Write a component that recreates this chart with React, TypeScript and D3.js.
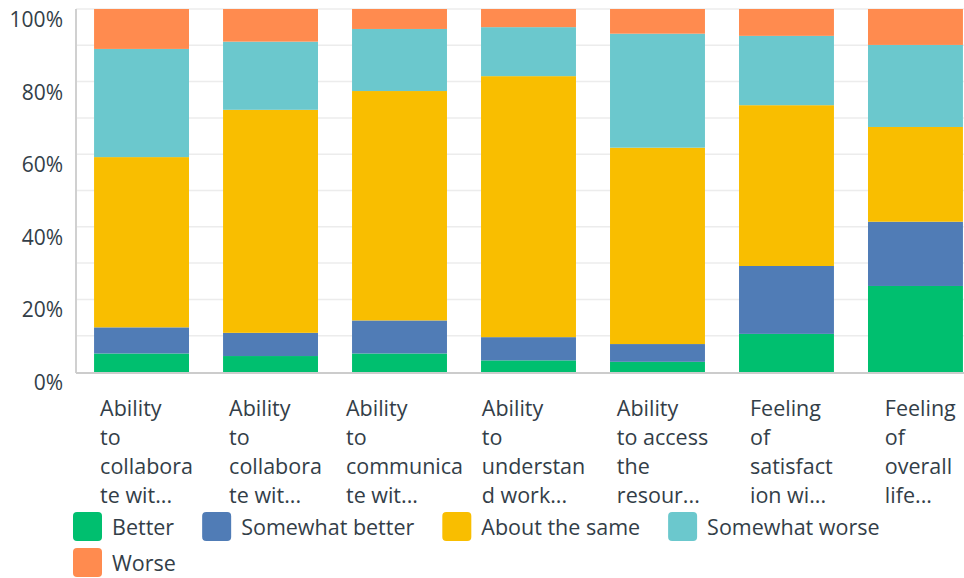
import React, { useRef, useEffect } from 'react';
import * as d3 from 'd3';

// categories (as wrapped / truncated in the chart)
const categories = [
  ['Ability', 'to', 'collabora', 'te wit...'],
  ['Ability', 'to', 'collabora', 'te wit...'],
  ['Ability', 'to', 'communica', 'te wit...'],
  ['Ability', 'to', 'understan', 'd work...'],
  ['Ability', 'to access', 'the', 'resour...'],
  ['Feeling', 'of', 'satisfact', 'ion wi...'],
  ['Feeling', 'of', 'overall', 'life...'],
];

const seriesNames = ['Better', 'Somewhat better', 'About the same', 'Somewhat worse', 'Worse'];
const seriesColors = ['#00bf6f', '#507cb6', '#f9be00', '#6bc8cd', '#ff8b4f'];

// percentages per category
const better = [5.1, 4.4, 5.1, 3.2, 2.8, 10.5, 23.7];
const somewhatBetter = [7.2, 6.4, 9.1, 6.4, 4.9, 18.7, 17.7];
const aboutSame = [46.9, 61.5, 63.2, 71.9, 54.1, 44.3, 26.1];
const somewhatWorse = [29.8, 18.8, 17.1, 13.5, 31.4, 19.1, 22.6];
const worse = [11.0, 9.0, 5.5, 5.0, 6.8, 7.4, 9.9];

const yTicks = [0, 20, 40, 60, 80, 100];

const FONT = '"Open Sans", sans-serif';
const TEXT = '#333e48';

const Chart = () => {
  const ref = useRef<SVGSVGElement>(null);

  useEffect(() => {
    if (!ref.current) return;
    const width = 964;
    const height = 578;
    const left = 76;
    const top = 9;
    const bottom = 372;

    const svg = d3.select(ref.current);
    svg.selectAll('*').remove();

    const rows = categories.map((c, i) => ({
      key: i,
      Better: better[i],
      'Somewhat better': somewhatBetter[i],
      'About the same': aboutSame[i],
      'Somewhat worse': somewhatWorse[i],
      Worse: worse[i],
    }));

    const x = d3.scaleBand<number>()
      .domain(categories.map((_, i) => i))
      .range([left, 981])
      .paddingInner(0.264)
      .paddingOuter(0.14);

    const y = d3.scaleLinear().domain([0, 100]).range([bottom, top]);

    // gridlines every 10%
    svg.append('g')
      .selectAll('line')
      .data(d3.range(10, 101, 10))
      .enter()
      .append('line')
      .attr('x1', left)
      .attr('x2', width)
      .attr('y1', d => y(d))
      .attr('y2', d => y(d))
      .attr('stroke', '#ececec')
      .attr('stroke-width', 1.5);

    // stacked bars
    const stack = d3.stack<any>()
      .keys(seriesNames)
      .value((d, k) => d[k] / (d.Better + d['Somewhat better'] + d['About the same'] + d['Somewhat worse'] + d.Worse) * 100);
    const layers = stack(rows);

    svg.append('g')
      .selectAll('g')
      .data(layers)
      .enter()
      .append('g')
      .attr('fill', (_, i) => seriesColors[i])
      .selectAll('rect')
      .data(d => d)
      .enter()
      .append('rect')
      .attr('x', d => x(d.data.key)!)
      .attr('width', x.bandwidth())
      .attr('y', d => y(d[1]))
      .attr('height', d => y(d[0]) - y(d[1]));

    // axes lines
    svg.append('line')
      .attr('x1', left).attr('x2', left)
      .attr('y1', top).attr('y2', bottom + 1)
      .attr('stroke', '#d0d0d0').attr('stroke-width', 2);
    svg.append('line')
      .attr('x1', left).attr('x2', width)
      .attr('y1', bottom + 1).attr('y2', bottom + 1)
      .attr('stroke', '#cccccc').attr('stroke-width', 2);

    // y tick labels
    svg.append('g')
      .selectAll('text')
      .data(yTicks)
      .enter()
      .append('text')
      .attr('x', 63)
      .attr('y', d => y(d) + 18)
      .attr('text-anchor', 'end')
      .attr('font-family', FONT)
      .attr('font-size', 21)
      .attr('fill', TEXT)
      .text(d => `${d}%`);

    // x labels (left aligned block centred on bar)
    categories.forEach((lines, i) => {
      const g = svg.append('g');
      const t = g.append('text')
        .attr('font-family', FONT)
        .attr('font-size', 21.5)
        .attr('fill', TEXT);
      lines.forEach((ln, j) => {
        t.append('tspan').attr('x', 0).attr('y', 416 + j * 29).text(ln);
      });
      const w = (t.node() as SVGTextElement).getBBox().width;
      const cx = x(i)! + x.bandwidth() / 2 + 5;
      g.attr('transform', `translate(${cx - w / 2},0)`);
    });

    // legend
    const legend = svg.append('g');
    let lx = 73;
    let ly = 512;
    seriesNames.forEach((name, i) => {
      const item = legend.append('g');
      item.append('rect')
        .attr('width', 29).attr('height', 29).attr('rx', 4)
        .attr('fill', seriesColors[i]);
      const t = item.append('text')
        .attr('x', 39).attr('y', 23)
        .attr('font-family', FONT)
        .attr('font-size', 21.5)
        .attr('fill', TEXT)
        .text(name);
      const w = 39 + (t.node() as SVGTextElement).getComputedTextLength();
      if (lx + w > 900) {
        lx = 73;
        ly += 36;
      }
      item.attr('transform', `translate(${lx},${ly})`);
      lx += w + 28;
    });

    svg.attr('width', width).attr('height', height);
  }, []);

  return (
    <svg
      ref={ref}
      width={964}
      height={578}
      style={{ position: 'absolute', left: 0, top: 0, background: '#fff', overflow: 'hidden' }}
    />
  );
};

export default function App() {
  return <Chart />;
}
